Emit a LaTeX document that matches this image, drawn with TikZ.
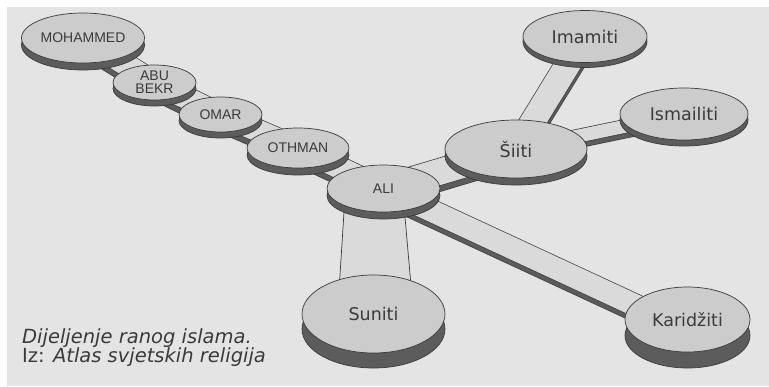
\documentclass[tikz,border=0pt]{standalone}
\usepackage{fontspec}
\setmainfont{DejaVu Sans}
\newfontfamily\capsfont{Liberation Sans}
\usetikzlibrary{shapes.geometric,shadows}
\definecolor{paper}{RGB}{228, 228, 228}
\definecolor{disktop}{RGB}{204, 204, 204}
\definecolor{barface}{RGB}{218, 218, 218}
\definecolor{rim}{RGB}{92, 92, 92}
\definecolor{ink}{RGB}{58, 58, 58}
\pgfdeclarelayer{back}
\pgfsetlayers{back,main}
\tikzset{
  disk/.style={ellipse, draw=ink, line width=0.7pt, fill=disktop, inner sep=0pt, text=ink,
               general shadow={shadow yshift=-#1, fill=rim, draw=ink, line width=0.7pt}},
  disk/.default=6pt,
  caps/.style={font=\capsfont\fontsize{14}{13}\selectfont, align=center},
  sect/.style={font=\fontsize{17.5}{19}\selectfont},
  cite/.style={font=\fontsize{19.5}{19}\selectfont, text=ink, anchor=base west, inner sep=0pt},
  slab/.style={draw=ink, line width=0.7pt, double=barface, double distance=#1, line join=round},
  slabside/.style={draw=ink, line width=0.7pt, double=rim, double distance=#1, line join=round},
}
\begin{document}
\begin{tikzpicture}[x=1pt, y=-1pt]
            \useasboundingbox (0, 0) rectangle (769, 386);
            % Early line
            \node[disk=7pt, caps, minimum width=123pt, minimum height=50pt] (mohammed)  at ( 83.0,  38.0) {MOHAMMED};
            \node[disk,     caps, minimum width= 83pt, minimum height=35pt] (abubekr)   at (154.5,  82.5) {ABU\\BEKR};
            \node[disk,     caps, minimum width= 83pt, minimum height=35pt] (omar)      at (220.5, 114.5) {OMAR};
            \node[disk=7pt, caps, minimum width=102pt, minimum height=40pt] (othman)    at (298.0, 148.0) {OTHMAN};
            \node[disk=7pt, caps, minimum width=113pt, minimum height=47pt] (ali)       at (383.5, 188.5) {ALI};
            % Branches
            \node[disk=7pt,  sect, minimum width=142pt, minimum height=58pt] (siiti)     at (516.0, 149.0) {Šiiti};
            \node[disk=5pt,  sect, minimum width=124pt, minimum height=52pt] (imamiti)   at (585.0,  36.5) {Imamiti};
            \node[disk,      sect, minimum width=128pt, minimum height=52pt] (ismailiti) at (684.0, 114.0) {Ismailiti};
            \node[disk=15pt, sect, minimum width=143pt, minimum height=78pt] (suniti)    at (373.5, 314.0) {Suniti};
            \node[disk=16pt, sect, minimum width=125pt, minimum height=65pt] (karidziti) at (687.5, 319.5) {Karidžiti};
            % Caption
            \node[cite] (caption) at (22, 343) {\itshape Dijeljenje ranog islama.};
            \node[cite] (source)  at (22, 362) {Iz: \itshape Atlas svjetskih religija};
            \begin{pgfonlayer}{back}
            % Paper
            \fill[paper] (7, 7) rectangle (769, 386);
            % Bars
            \filldraw[draw=ink, line width=0.7pt, fill=barface]
                 ([xshift=-38pt]ali.center) -- ([xshift=19pt]ali.center)
                 -- ([xshift=40pt]suniti.center) -- ([xshift=-36pt]suniti.center) -- cycle;
            \draw[slabside=22pt] ([yshift=-5pt]ali.center) -- ([yshift=-15pt]karidziti.center);
            \draw[slab=22pt]     (ali.center) -- ([yshift=-10pt]karidziti.center);
            \draw[slabside=22pt] ([yshift=-6pt]mohammed.center) -- ([yshift=-6pt]abubekr.center)
                 -- ([yshift=-6pt]omar.center) -- ([yshift=-6pt]othman.center) -- ([yshift=-6pt]ali.center);
            \draw[slab=22pt]     (mohammed.center) -- (abubekr.center) -- (omar.center) -- (othman.center) -- (ali.center);
            \draw[slabside=26pt] ([yshift=-6pt]ali.center) -- ([yshift=-6pt]siiti.center);
            \draw[slab=26pt]     (ali.center) -- (siiti.center);
            \draw[slabside=25pt] ([yshift=-5pt]siiti.center) -- ([yshift=-5pt]imamiti.center);
            \draw[slab=25pt]     (siiti.center) -- (imamiti.center);
            \draw[slabside=13pt] ([yshift=-5pt]siiti.center) -- ([yshift=-5pt]ismailiti.center);
            \draw[slab=13pt]     (siiti.center) -- (ismailiti.center);
            \end{pgfonlayer}
        \end{tikzpicture}
\end{document}
